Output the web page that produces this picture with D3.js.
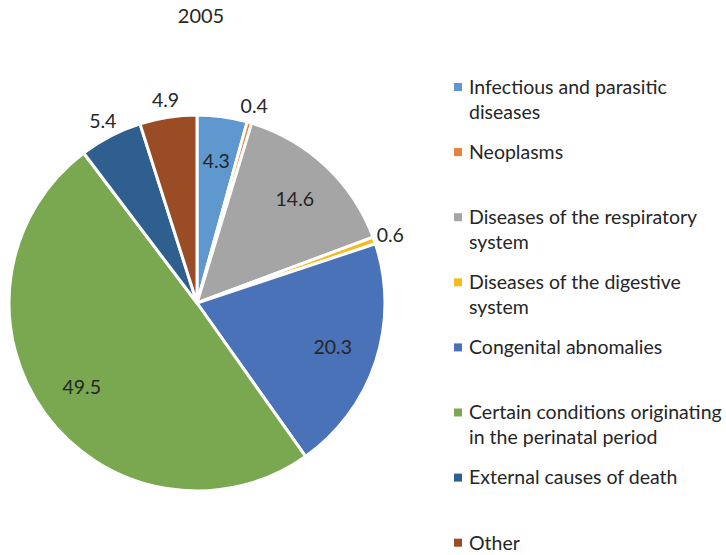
<!DOCTYPE html>
<html>
<head>
<meta charset="utf-8">
<script src="https://cdn.jsdelivr.net/npm/d3@7"></script>
<style>
  body { margin: 0; background: #fff; }
  text { font-family: Lato, "Open Sans", sans-serif; fill: #262626; }
</style>
</head>
<body>
<svg id="chart" width="726" height="555"></svg>
<script>
const title = '2005';
const categories = [
  ['Infectious and parasitic', 'diseases'],
  ['Neoplasms'],
  ['Diseases of the respiratory', 'system'],
  ['Diseases of the digestive', 'system'],
  ['Congenital abnomalies'],
  ['Certain conditions originating', 'in the perinatal period'],
  ['External causes of death'],
  ['Other']
];
const values = [4.3, 0.4, 14.6, 0.6, 20.3, 49.5, 5.4, 4.9];
const colors = ['#5e98cf', '#e8803e', '#a5a5a5', '#f7bb1f', '#4a72b8', '#79a850', '#2f5f8f', '#9a4c24'];
// which labels excel put outside the slice
const outside = [false, true, false, true, false, false, true, true];

const svg = d3.select('#chart');
const cx = 197, cy = 303, r = 188;

svg.append('text')
  .attr('x', 201)
  .attr('y', 23)
  .attr('text-anchor', 'middle')
  .style('font-size', '20px')
  .text(title);

const pie = d3.pie().sort(null).value(d => d);
const arcs = pie(values);
const arc = d3.arc().innerRadius(0).outerRadius(r);
const inArc = d3.arc().innerRadius(r * 0.76).outerRadius(r * 0.76);
const outArc = d3.arc().innerRadius(r + 17).outerRadius(r + 17);

const g = svg.append('g').attr('transform', `translate(${cx},${cy})`);

g.selectAll('path')
  .data(arcs)
  .enter()
  .append('path')
  .attr('d', arc)
  .attr('fill', (d, i) => colors[i])
  .attr('stroke', '#fff')
  .attr('stroke-width', 3)
  .attr('stroke-linejoin', 'round');

g.selectAll('text.lbl')
  .data(arcs)
  .enter()
  .append('text')
  .attr('class', 'lbl')
  .attr('transform', (d, i) => `translate(${(outside[i] ? outArc : inArc).centroid(d)})`)
  .attr('text-anchor', 'middle')
  .attr('dy', '0.35em')
  .style('font-size', '19.5px')
  .text(d => d.data.toFixed(1));

const legend = svg.append('g').attr('transform', 'translate(454,87)');
const rows = legend.selectAll('g')
  .data(categories)
  .enter()
  .append('g')
  .attr('transform', (d, i) => `translate(0,${i * 65.1})`);

rows.append('rect')
  .attr('x', 0)
  .attr('y', -4)
  .attr('width', 8)
  .attr('height', 8)
  .attr('fill', (d, i) => colors[i]);

rows.each(function(lines) {
  d3.select(this).selectAll('text')
    .data(lines)
    .enter()
    .append('text')
    .attr('x', 15)
    .attr('y', (d, j) => j * 25)
    .attr('dy', '0.35em')
    .style('font-size', '19.5px')
    .text(d => d);
});
</script>
</body>
</html>
